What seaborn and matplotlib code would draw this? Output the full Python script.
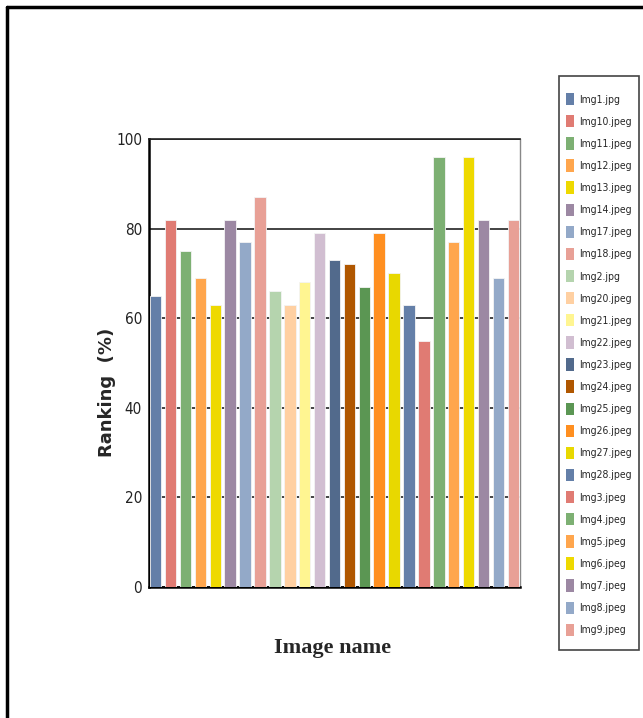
import matplotlib
matplotlib.use("Agg")
import matplotlib.pyplot as plt
import seaborn as sns
from matplotlib.lines import Line2D
from matplotlib.patches import Rectangle
from matplotlib import font_manager

names = ["Img1.jpg", "Img10.jpeg", "Img11.jpeg", "Img12.jpeg", "Img13.jpeg", "Img14.jpeg",
         "Img17.jpeg", "Img18.jpeg", "Img2.jpg", "Img20.jpeg", "Img21.jpeg", "Img22.jpeg",
         "Img23.jpeg", "Img24.jpeg", "Img25.jpeg", "Img26.jpeg", "Img27.jpeg", "Img28.jpeg",
         "Img3.jpeg", "Img4.jpeg", "Img5.jpeg", "Img6.jpeg", "Img7.jpeg", "Img8.jpeg", "Img9.jpeg"]
ranking = [65, 82, 75, 69, 63, 82, 77, 87, 66, 63, 68, 79,
           73, 72, 67, 79, 70, 63, 55, 96, 77, 96, 82, 69, 82]
colors = ["#647fa8", "#e07b73", "#7db073", "#ffa64d", "#eed900", "#9c88a3",
          "#93a9c8", "#e8a096", "#b5d4ae", "#ffd0a2", "#fff591", "#d1bed1",
          "#526a8c", "#b05700", "#5b9653", "#ff8f20", "#e8d800", "#647fa8",
          "#e07b73", "#7db073", "#ffa64d", "#eed900", "#9c88a3", "#93a9c8", "#e8a096"]

sns.set_style("white")

# look for a narrow / condensed regular font, like the Arial Narrow of the original
cond = None
for f in font_manager.fontManager.ttflist:
    fn = f.fname.lower()
    if ("narrow" in fn or "condensed" in fn) and "bold" not in fn and "oblique" not in fn \
            and "italic" not in fn and "serif" not in fn and "mono" not in fn:
        cond = f.fname
        break
if cond:
    tick_fp = font_manager.FontProperties(fname=cond, size=11)
    leg_fp = font_manager.FontProperties(fname=cond, size=7.5)
else:
    tick_fp = font_manager.FontProperties(family="DejaVu Sans", size=10)
    leg_fp = font_manager.FontProperties(family="DejaVu Sans", size=6.8)

fig = plt.figure(figsize=(6.43, 7.18), dpi=100)
ax = fig.add_axes([149 / 643, 1 - 587 / 718, 371 / 643, 448 / 718])

sns.barplot(x=names, y=ranking, hue=names, palette=colors, legend=False, saturation=1,
            width=0.77, edgecolor="#f4f4f4", linewidth=0.6, ax=ax, zorder=3)

ax.set_ylim(0, 100)
ax.set_xlim(-0.45, len(names) - 0.55)
ax.set_yticks([0, 20, 40, 60, 80, 100])
ax.set_yticklabels(["0", "20", "40", "60", "80", "100"], fontproperties=tick_fp)
ax.set_xticks([])
ax.yaxis.grid(True, color="#222222", linewidth=1.2, zorder=0)
ax.set_axisbelow(True)
ax.tick_params(axis="y", length=0, pad=5, colors="#222222")
for s in ["left", "bottom"]:
    ax.spines[s].set_color("black")
    ax.spines[s].set_linewidth(1.8)
ax.spines["right"].set_color("#888888")
ax.spines["right"].set_linewidth(1)
ax.spines["top"].set_color("#222222")
ax.spines["top"].set_linewidth(1.2)

ax.set_ylabel("Ranking  (%)", fontsize=13, fontweight="bold", family="DejaVu Sans", labelpad=0)
ax.yaxis.set_label_coords(-0.088, 0.435)
ax.set_xlabel("Image name", fontsize=16, fontweight="bold", family="Liberation Serif")
ax.xaxis.set_label_coords(0.495, -0.114)

# legend box drawn as its own rectangle, entries placed inside without a frame
fig.add_artist(Rectangle((559 / 643, 1 - 650 / 718), 80 / 643, 574 / 718,
                         transform=fig.transFigure, facecolor="white",
                         edgecolor="#444444", linewidth=1.2))
handles = [plt.Rectangle((0, 0), 1, 1, facecolor=c, edgecolor="none") for c in colors]
leg = fig.legend(handles, names, loc="upper left", bbox_to_anchor=(566 / 643, 1 - 93 / 718),
                 prop=leg_fp, frameon=False,
                 handlelength=0.8, handleheight=1.45, handletextpad=0.45,
                 labelspacing=0.935, borderpad=0, borderaxespad=0)

fig.add_artist(Line2D([7 / 643, 7 / 643], [0, 1 - 7 / 718], color="black", linewidth=2.5))
fig.add_artist(Line2D([7 / 643, 1], [1 - 7 / 718, 1 - 7 / 718], color="black", linewidth=2.5))

fig.savefig("out.png", dpi=100)
